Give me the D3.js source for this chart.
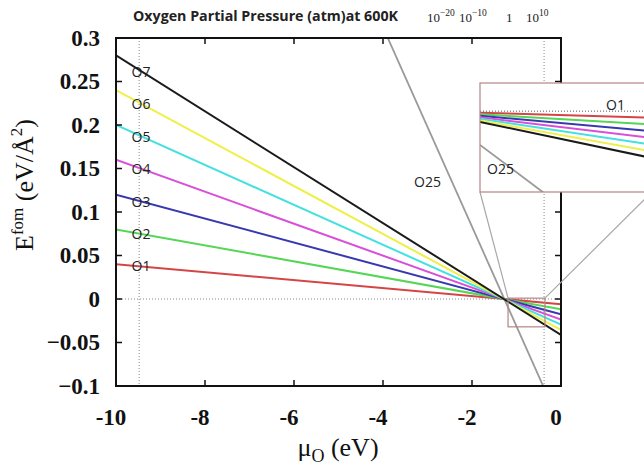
<!DOCTYPE html>
<html>
<head>
<meta charset="utf-8">
<script src="https://cdn.jsdelivr.net/npm/d3@7"></script>
<style>
  body { margin: 0; background: #fff; }
  svg { display: block; }
  .frame { fill: none; stroke: #111; stroke-width: 2; }
  .tick-y, .tick-x { stroke: #111; stroke-width: 1.5; }
  .tick-label { font-family: "Liberation Serif", "DejaVu Serif", serif; font-weight: bold; font-size: 23px; fill: #111; }
  .axis-title { font-family: "Liberation Serif", "DejaVu Serif", serif; fill: #111; }
  .series-label { font-family: "Open Sans", Lato, sans-serif; font-size: 14px; fill: #222; }
  .guide { stroke: #888; stroke-width: 1; stroke-dasharray: 1, 2; fill: none; }
</style>
</head>
<body>
<div id="chart"></div>
<script>
// chart values
const seriesNames = ['O1', 'O2', 'O3', 'O4', 'O5', 'O6', 'O7'];
const seriesColors = ['#d64545', '#55d655', '#3838b0', '#d94fd9', '#45e0e0', '#efef4a', '#1a1a1a'];
const muEnds = [-10, 0];
const eAtMuMin = [0.04, 0.08, 0.12, 0.16, 0.20, 0.24, 0.28];
const eAtMuMax = [-0.0059, -0.0118, -0.0177, -0.0236, -0.0295, -0.0354, -0.0413];
const o25Ends = [1.0, -0.146];

const xTicks = [-10, -8, -6, -4, -2, 0];
const yTicks = [-0.1, -0.05, 0, 0.05, 0.1, 0.15, 0.2, 0.25, 0.3];
const yTickLabels = ['\u22120.1', '\u22120.05', '0', '0.05', '0.1', '0.15', '0.2', '0.25', '0.3'];
const guideMu = [-9.48, -0.38];
const pressureLabels = [['10', '\u221220'], ['10', '\u221210'], ['1', ''], ['10', '10']];

// zoom window shown in the inset
const zoomMu = [-1.19, -0.36];
const zoomE = [0.001, -0.032];
const insetMu = [-1.19, -0.87];
const insetE = [0.008, -0.023];

const W = 644, H = 472;
const margin = {top: 38, right: 83, bottom: 86, left: 116};

const svg = d3.select('#chart').append('svg')
  .attr('width', W)
  .attr('height', H);

const x = d3.scaleLinear().domain([-10, 0]).range([margin.left, W - margin.right]);
const y = d3.scaleLinear().domain([-0.1, 0.3]).range([H - margin.bottom, margin.top]);

// value of a series at mu (straight line between the two read end values)
function lineValue(start, end, mu) {
  return d3.scaleLinear().domain(muEnds).range([start, end])(mu);
}

const defs = svg.append('defs');
defs.append('clipPath').attr('id', 'plot-clip')
  .append('rect')
  .attr('x', x(-10)).attr('y', y(0.3))
  .attr('width', x(0) - x(-10)).attr('height', y(-0.1) - y(0.3));

// title + pressure scale
svg.append('text')
  .attr('x', 133).attr('y', 21)
  .attr('textLength', 265)
  .attr('lengthAdjust', 'spacingAndGlyphs')
  .style('font-family', '"Open Sans", Lato, sans-serif')
  .style('font-weight', 'bold')
  .style('font-size', '15px')
  .style('fill', '#222')
  .text('Oxygen Partial Pressure (atm)at 600K');

const pressX = [427, 459, 506, 526];
pressureLabels.forEach((p, i) => {
  const t = svg.append('text')
    .attr('x', pressX[i]).attr('y', 22)
    .style('font-family', '"Liberation Serif", serif')
    .style('font-size', '13px')
    .style('fill', '#222');
  t.append('tspan').text(p[0]);
  if (p[1]) t.append('tspan').attr('dy', -6).style('font-size', '9.5px').text(p[1]);
});

// main plot
const plot = svg.append('g');

plot.append('line').attr('class', 'guide')
  .attr('x1', x(-10)).attr('x2', x(0)).attr('y1', y(0)).attr('y2', y(0));
guideMu.forEach(m => {
  plot.append('line').attr('class', 'guide')
    .attr('x1', x(m)).attr('x2', x(m)).attr('y1', y(0.3)).attr('y2', y(-0.1));
});

const lines = plot.append('g').attr('clip-path', 'url(#plot-clip)');
const path = d3.line().x(d => x(d[0])).y(d => y(d[1]));

lines.append('path')
  .datum([[muEnds[0], o25Ends[0]], [muEnds[1], o25Ends[1]]])
  .attr('d', path)
  .attr('fill', 'none').attr('stroke', '#9a9a9a').attr('stroke-width', 1.8);

seriesNames.forEach((name, i) => {
  lines.append('path')
    .datum([[muEnds[0], eAtMuMin[i]], [muEnds[1], eAtMuMax[i]]])
    .attr('d', path)
    .attr('fill', 'none').attr('stroke', seriesColors[i]).attr('stroke-width', 2);
});

seriesNames.forEach((name, i) => {
  plot.append('text').attr('class', 'series-label')
    .attr('x', x(-9.65))
    .attr('y', y(lineValue(eAtMuMin[i], eAtMuMax[i], -9.4)))
    .attr('dy', '0.35em')
    .text(name);
});

plot.append('text').attr('class', 'series-label')
  .attr('x', x(-3.0)).attr('y', y(0.134))
  .attr('text-anchor', 'middle')
  .attr('dy', '0.35em')
  .text('O25');

// zoom window
plot.append('rect')
  .attr('x', x(zoomMu[0])).attr('y', y(zoomE[0]))
  .attr('width', x(zoomMu[1]) - x(zoomMu[0]))
  .attr('height', y(zoomE[1]) - y(zoomE[0]))
  .attr('fill', 'none').attr('stroke', '#b58585').attr('stroke-width', 1.2);

// frame and ticks
plot.append('rect').attr('class', 'frame')
  .attr('x', x(-10)).attr('y', y(0.3))
  .attr('width', x(0) - x(-10)).attr('height', y(-0.1) - y(0.3));

yTicks.forEach(v => {
  plot.append('line').attr('class', 'tick-y')
    .attr('x1', x(-10)).attr('x2', x(-10) + 6).attr('y1', y(v)).attr('y2', y(v));
  plot.append('line').attr('class', 'tick-y')
    .attr('x1', x(0)).attr('x2', x(0) - 6).attr('y1', y(v)).attr('y2', y(v));
});
xTicks.slice(1, -1).forEach(v => {
  plot.append('line').attr('class', 'tick-x')
    .attr('x1', x(v)).attr('x2', x(v)).attr('y1', y(-0.1)).attr('y2', y(-0.1) - 6);
  plot.append('line').attr('class', 'tick-x')
    .attr('x1', x(v)).attr('x2', x(v)).attr('y1', y(0.3)).attr('y2', y(0.3) + 6);
});

yTicks.forEach((v, i) => {
  svg.append('text').attr('class', 'tick-label')
    .attr('x', 100).attr('y', y(v))
    .attr('dy', '0.33em')
    .attr('text-anchor', 'end')
    .text(yTickLabels[i]);
});
xTicks.forEach(v => {
  svg.append('text').attr('class', 'tick-label')
    .attr('x', x(v) - 5).attr('y', 425)
    .attr('text-anchor', 'middle')
    .text(String(v));
});

// axis titles
const yTitle = svg.append('text').attr('class', 'axis-title')
  .attr('transform', 'translate(33,185) rotate(-90)')
  .attr('text-anchor', 'middle')
  .style('font-size', '26px');
yTitle.append('tspan').text('E');
yTitle.append('tspan').attr('dy', -10).style('font-size', '17px').text('fom');
yTitle.append('tspan').attr('dy', 10).text(' (eV/\u00c5');
yTitle.append('tspan').attr('dy', -11).style('font-size', '17px').text('2');
yTitle.append('tspan').attr('dy', 11).text(')');

const xTitle = svg.append('text').attr('class', 'axis-title')
  .attr('x', 338).attr('y', 456)
  .attr('text-anchor', 'middle')
  .style('font-size', '26px');
xTitle.append('tspan').text('\u03bc');
xTitle.append('tspan').attr('dy', 6).style('font-size', '18px').text('O');
xTitle.append('tspan').attr('dy', -6).text(' (eV)');

// inset
const xi = d3.scaleLinear().domain(insetMu).range([480, 652]);
const yi = d3.scaleLinear().domain(insetE).range([83, 192]);

svg.append('line')
  .attr('x1', x(zoomMu[0])).attr('y1', y(zoomE[0]))
  .attr('x2', xi(insetMu[0])).attr('y2', yi(insetE[1]))
  .attr('stroke', '#a8a8a8').attr('stroke-width', 1.2);
svg.append('line')
  .attr('x1', x(zoomMu[1])).attr('y1', y(zoomE[0]))
  .attr('x2', xi(insetMu[1])).attr('y2', yi(insetE[1]))
  .attr('stroke', '#a8a8a8').attr('stroke-width', 1.2);

defs.append('clipPath').attr('id', 'inset-clip')
  .append('rect')
  .attr('x', xi(insetMu[0])).attr('y', yi(insetE[0]))
  .attr('width', xi(insetMu[1]) - xi(insetMu[0]))
  .attr('height', yi(insetE[1]) - yi(insetE[0]));

const inset = svg.append('g');
inset.append('rect')
  .attr('x', xi(insetMu[0])).attr('y', yi(insetE[0]))
  .attr('width', xi(insetMu[1]) - xi(insetMu[0]))
  .attr('height', yi(insetE[1]) - yi(insetE[0]))
  .attr('fill', '#fff');

const insetLines = inset.append('g').attr('clip-path', 'url(#inset-clip)');
insetLines.append('line').attr('class', 'guide')
  .attr('x1', xi(insetMu[0])).attr('x2', xi(insetMu[1]))
  .attr('y1', yi(0)).attr('y2', yi(0))
  .style('stroke', '#556');

const ipath = d3.line().x(d => xi(d[0])).y(d => yi(d[1]));
insetLines.append('path')
  .datum(insetMu.map(m => [m, lineValue(o25Ends[0], o25Ends[1], m)]))
  .attr('d', ipath)
  .attr('fill', 'none').attr('stroke', '#9a9a9a').attr('stroke-width', 1.8);
seriesNames.forEach((name, i) => {
  insetLines.append('path')
    .datum(insetMu.map(m => [m, lineValue(eAtMuMin[i], eAtMuMax[i], m)]))
    .attr('d', ipath)
    .attr('fill', 'none').attr('stroke', seriesColors[i]).attr('stroke-width', 2);
});

inset.append('rect')
  .attr('x', xi(insetMu[0])).attr('y', yi(insetE[0]))
  .attr('width', xi(insetMu[1]) - xi(insetMu[0]))
  .attr('height', yi(insetE[1]) - yi(insetE[0]))
  .attr('fill', 'none').attr('stroke', '#b58585').attr('stroke-width', 1.2);

inset.append('text').attr('class', 'series-label')
  .attr('x', 606).attr('y', yi(0)).attr('dy', '-0.1em')
  .text('O1');
inset.append('text').attr('class', 'series-label')
  .attr('x', 487).attr('y', 174)
  .text('O25');
</script>
</body>
</html>
